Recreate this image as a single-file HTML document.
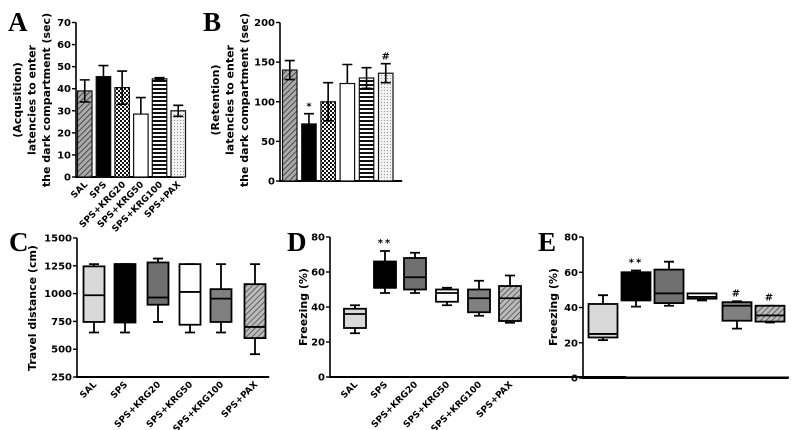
<!DOCTYPE html>
<html><head><meta charset="utf-8"><style>
body{margin:0;background:#fff;}
svg{display:block;font-family:"DejaVu Sans","Liberation Sans",sans-serif;}
.t{font-size:10px;font-weight:bold;}
.L{font-family:"Liberation Serif",serif;font-weight:bold;font-size:27px;}
</style></head><body>
<svg id="s" width="791" height="430" viewBox="0 0 791 430">
<defs>
<pattern id="pDiag" width="4" height="4" patternUnits="userSpaceOnUse" patternTransform="rotate(45)"><rect width="4" height="4" fill="#aaa"/><line x1="0" y1="0" x2="0" y2="4" stroke="#333" stroke-width="1.6"/></pattern>
<pattern id="pCheck" width="4" height="4" patternUnits="userSpaceOnUse"><rect width="4" height="4" fill="#fff"/><rect width="2" height="2" fill="#111"/><rect x="2" y="2" width="2" height="2" fill="#111"/></pattern>
<pattern id="pHoriz" width="4" height="4" patternUnits="userSpaceOnUse"><rect width="4" height="4" fill="#fff"/><rect width="4" height="2" fill="#111"/></pattern>
<pattern id="pDot" width="3" height="3" patternUnits="userSpaceOnUse"><rect width="3" height="3" fill="#f2f2f2"/><rect width="1" height="1" fill="#999"/></pattern>
<pattern id="pDiag2" width="4" height="4" patternUnits="userSpaceOnUse" patternTransform="rotate(45)"><rect width="4" height="4" fill="#bbb"/><line x1="0" y1="0" x2="0" y2="4" stroke="#444" stroke-width="1.5"/></pattern>
</defs>
<line x1="582" y1="377.5" x2="789" y2="377.5" stroke="#000" stroke-width="2"/>
</svg>
<script>
// ---- data ----
const groups = ["SAL","SPS","SPS+KRG20","SPS+KRG50","SPS+KRG100","SPS+PAX"];
const aMeans = [39,45.5,40.5,28.5,44.5,30];
const aErr = [5,5,7.5,7.5,0.5,2.5];
const aTicks = [0,10,20,30,40,50,60,70];
const bMeans = [140,72,100,123,130,136];
const bErr = [12,13,24,24,13,12];
const bTicks = [0,50,100,150,200];
const bMarks = ["","*","","","","#"];
const cMin = [650,650,745,650,650,455];
const cQ1 = [745,740,900,720,745,600];
const cMed = [985,1265,965,1015,955,700];
const cQ3 = [1245,1265,1280,1265,1040,1085];
const cMax = [1265,1265,1315,1265,1265,1265];
const cTicks = [250,500,750,1000,1250,1500];
const dMin = [25,48,48,41,35,31];
const dQ1 = [28,51,50,43,37,32];
const dMed = [36,51,57,48,45,45];
const dQ3 = [39,66,68,50,50,52];
const dMax = [41,72,71,51,55,58];
const dMarks = ["","**","","","",""];
const eMin = [21.5,40.5,41,44,28,31.5];
const eQ1 = [23,44,42.5,45,32.5,32];
const eMed = [25,59,48,46,41,35.5];
const eQ3 = [42,60,61.5,48,43,41];
const eMax = [47,61,66,48,43.5,41];
const eMarks = ["","**","","","#","#"];
const freezeTicks = [0,20,40,60,80];

const svg = document.getElementById('s');
const NS = "http://www.w3.org/2000/svg";
function mk(tag, attrs, parent){const e=document.createElementNS(NS,tag);for(const k in attrs)e.setAttribute(k,attrs[k]);(parent||svg).appendChild(e);return e;}
function txt(x,y,s,cls,anchor,rot){const e=mk('text',{x:x,y:y,class:cls||'t','text-anchor':anchor||'middle'});if(rot)e.setAttribute('transform',`rotate(${rot} ${x} ${y})`);e.textContent=s;return e;}

function axis(name,xa,xb,yTop,yBot,vmin,vmax,ticks){
  const g=mk('g',{});
  
  
  const y=v=>yBot-(v-vmin)/(vmax-vmin)*(yBot-yTop);
  mk('rect',{x:xa-0.8,y:yTop,width:1.6,height:yBot-yTop,fill:'#000'},g);
  mk('rect',{x:xa-0.8,y:Math.round(yBot)-1,width:xb-xa,height:2,fill:'#000'},g);
  ticks.forEach(t=>{
    mk('rect',{x:xa-4,y:y(t)-0.7,width:4,height:1.4,fill:'#000'},g);
    const e=txt(xa-5,y(t)+3.5,String(t),'t','end');
    
    
  });
  return y;
}
function xlabels(name,centers,yb){
  groups.forEach((g,i)=>{
    const x=centers[i]+3,y=yb+8;
    const e=txt(x,y,g,'t','end',-45);
    e.style.fontSize='9px';
    
    
  });
}
function ylabel(name,x,y,lines){
  lines.forEach((l,i)=>{
    const e=txt(x+i*14.5,y,l,'t','middle',-90);
    e.style.fontSize='11px';
    
    
  });
}
function letter(x,y,s){const e=txt(x,y,s,'L','start');}

const barFills=['url(#pDiag)','#000','url(#pCheck)','#fff','url(#pHoriz)','url(#pDot)'];
function barChart(name,xa,xb,yTop,yBot,vmax,ticks,means,errs,start,step,w,marks){
  const y=axis(name,xa,xb,yTop,yBot,0,vmax,ticks);
  means.forEach((m,i)=>{
    const bx=start+i*step, cx=bx+w/2;
    const r=mk('rect',{x:bx,y:y(m),width:w,height:yBot-y(m),fill:barFills[i],stroke:'#111','stroke-width':1.2});
    
    
    const top=y(m+errs[i]),bot=y(m-errs[i]);
    const eb=mk('path',{d:`M${cx},${top}V${i==1||i==3?y(m):bot}M${cx-5},${top}H${cx+5}`+(i==1||i==3?'':`M${cx-5},${bot}H${cx+5}`),stroke:'#000','stroke-width':1.6,fill:'none'});
    
    
    if(marks&&marks[i]){const t=txt(cx,top-4,marks[i],'t');}
  });
}
const boxFills=['#d9d9d9','#000','#707070','#fff','#808080','url(#pDiag2)'];
function boxChart(name,xa,xb,yTop,yBot,vmin,vmax,ticks,mins,q1,med,q3,maxs,centers,w,marks){
  const y=axis(name,xa,xb,yTop,yBot,vmin,vmax,ticks);
  centers.forEach((cx,i)=>{
    const g=mk('g',{});
    
    
    mk('path',{d:`M${cx},${y(maxs[i])}V${y(mins[i])}M${cx-5},${y(maxs[i])}H${cx+5}M${cx-5},${y(mins[i])}H${cx+5}`,stroke:'#000','stroke-width':1.8,fill:'none'},g);
    mk('rect',{x:cx-w/2,y:y(q3[i]),width:w,height:Math.max(1,y(q1[i])-y(q3[i])),fill:boxFills[i],stroke:'#000','stroke-width':1.8},g);
    mk('line',{x1:cx-w/2,y1:y(med[i]),x2:cx+w/2,y2:y(med[i]),stroke:'#000','stroke-width':1.8},g);
    if(marks&&marks[i]){const t=txt(cx,y(maxs[i])-5,marks[i],'t');t.style.letterSpacing='2px';}
  });
}

// Panel A
letter(8,31,'A');
barChart('panel-a',76,184,22.5,177,70,aTicks,aMeans,aErr,77.5,18.7,14.5);
ylabel('panel-a',21,100,['(Acqusition)','latencies to enter','the dark compartment (sec)']);
xlabels('panel-a',[85,104,123,141,160,178],177);
// Panel B
letter(203,31,'B');
barChart('panel-b',280,403,22.5,181,200,bTicks,bMeans,bErr,282.5,19.2,14.5,bMarks);
ylabel('panel-b',219,100,['(Retention)','latencies to enter','the dark compartment (sec)']);
// Panel C
letter(9,251,'C');
boxChart('panel-c',77,270,238,377,250,1500,cTicks,cMin,cQ1,cMed,cQ3,cMax,[94,125,158,190,221,255],21);
ylabel('panel-c',36,308,['Travel distance (cm)']);
xlabels('panel-c',[94,125,158,190,221,255],377);
// Panel D
letter(287,251,'D');
boxChart('panel-d',330,627,237,377,0,80,freezeTicks,dMin,dQ1,dMed,dQ3,dMax,[355,385,415,447,479,510],22,dMarks);
ylabel('panel-d',307,307,['Freezing (%)']);
xlabels('panel-d',[355,385,415,447,479,510],377);
// Panel E
letter(538,251,'E');
boxChart('panel-e',583,789,237,378,0,80,freezeTicks,eMin,eQ1,eMed,eQ3,eMax,[603,636,669,702,737,770],29,eMarks);
ylabel('panel-e',557,307,['Freezing (%)']);
</script>
</body></html>
